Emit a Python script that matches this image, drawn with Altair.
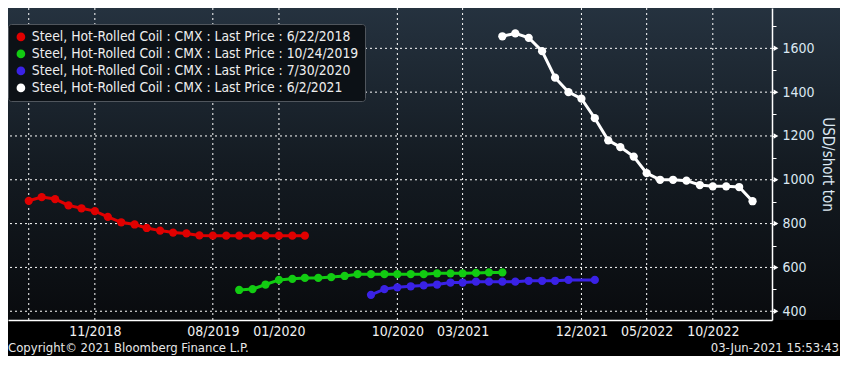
import altair as alt
import pandas as pd

FONT = "DejaVu Sans Condensed, Liberation Sans, sans-serif"
W, H = 764, 312
PAD_R, PAD_B = 68, 36

def months(start, n):
    return [d.strftime("%Y-%m-01T00:00:00") for d in pd.date_range(start, periods=n, freq="MS")]

series_names = [
    "Steel, Hot-Rolled Coil : CMX : Last Price : 6/22/2018",
    "Steel, Hot-Rolled Coil : CMX : Last Price : 10/24/2019",
    "Steel, Hot-Rolled Coil : CMX : Last Price : 7/30/2020",
    "Steel, Hot-Rolled Coil : CMX : Last Price : 6/2/2021",
]
series_ids = ["s1", "s2", "s3", "s4"]
series_colors = ["#e00000", "#12cc12", "#3a22e6", "#ffffff"]

red_months = months("2018-06-01", 22)
red_prices = [904, 921, 912, 883, 870, 857, 831, 806, 796, 780, 768, 759, 755, 746,
              745, 745, 745, 745, 745, 745, 745, 745]

green_months = months("2019-10-01", 21)
green_prices = [497, 501, 522, 543, 548, 552, 552, 556, 561, 569, 569, 569, 569, 569,
                569, 573, 573, 573, 575, 577, 577]

blue_months = months("2020-08-01", 16) + ["2022-01-01T00:00:00"]
blue_prices = [475, 501, 509, 514, 518, 522, 531, 531, 535, 535, 535, 535, 539, 539,
               539, 543, 543]

white_months = months("2021-06-01", 20)
white_prices = [1655, 1668, 1648, 1587, 1466, 1400, 1370, 1281, 1180, 1149, 1106, 1030,
                1000, 1000, 996, 976, 970, 970, 967, 902]

x_tick_dates = [(2018, 11), (2019, 8), (2020, 1), (2020, 10), (2021, 3), (2021, 12),
                (2022, 5), (2022, 10)]
x_grid_dates = [(2018, 6)] + x_tick_dates
y_major = [400, 600, 800, 1000, 1200, 1400, 1600]
y_all_ticks = list(range(400, 1800, 100))

rows = []
for name, sid, ms, ps in zip(series_names, series_ids,
                             [red_months, green_months, blue_months, white_months],
                             [red_prices, green_prices, blue_prices, white_prices]):
    for m, p in zip(ms, ps):
        rows.append({"series": name, "sid": sid, "date": m, "price": p})
df = pd.DataFrame(rows)

xgrid_df = pd.DataFrame({"date": [f"{y}-{m:02d}-01T00:00:00" for y, m in x_grid_dates]})
ygrid_df = pd.DataFrame({"price": y_major})

x_scale = alt.Scale(domain=[alt.DateTime(year=2018, month=4, date=14),
                            alt.DateTime(year=2023, month=2, date=15)])
y_scale = alt.Scale(domain=[360, 1784], nice=False, zero=False)

x_axis = alt.Axis(
    values=[alt.DateTime(year=y, month=m, date=1) for y, m in x_tick_dates],
    format="%m/%Y", grid=False, ticks=False, domainColor="#ffffff", domainWidth=1.5,
    labelColor="#f2f2f2", labelFont=FONT, labelFontSize=14, labelPadding=4,
    labelOverlap=False, labelFlush=False, title=None, zindex=1,
)
y_axis = alt.Axis(
    orient="right", values=y_all_ticks, format="d",
    labelExpr="datum.value % 200 == 0 ? datum.label : ''",
    grid=False, tickSize=4, tickColor="#ffffff", domainColor="#ffffff", domainWidth=1.5,
    labelColor="#dce8f2", labelFont=FONT, labelFontSize=14, labelPadding=6,
    title="USD/short ton", titleColor="#dce8f2", titleFont=FONT, titleFontSize=15,
    titleFontWeight="normal", titleAngle=90, titlePadding=5, zindex=1,
)

X = alt.X("date:T", scale=x_scale, axis=x_axis)
Y = alt.Y("price:Q", scale=y_scale, axis=y_axis)

one = pd.DataFrame({"a": [0]})

bg = alt.Chart(one).mark_rect(
    fill=alt.Gradient(
        gradient="linear",
        stops=[alt.GradientStop(color="#25323f", offset=0),
               alt.GradientStop(color="#141b22", offset=0.5),
               alt.GradientStop(color="#090b0e", offset=1)],
        x1=0, x2=0, y1=0, y2=1),
).encode(x=alt.value(0), x2=alt.value(W + PAD_R), y=alt.value(0), y2=alt.value(H))

bg_bottom = alt.Chart(one).mark_rect(fill="#000000").encode(
    x=alt.value(0), x2=alt.value(W + PAD_R), y=alt.value(H), y2=alt.value(H + PAD_B))

xgrid = alt.Chart(xgrid_df).mark_rule(color="#ffffff", strokeDash=[2, 3], strokeWidth=1).encode(x=X)
ygrid = alt.Chart(ygrid_df).mark_rule(color="#ffffff", strokeDash=[2, 3], strokeWidth=1).encode(y=Y)

lines = alt.Chart(df).mark_line(strokeWidth=3).encode(
    x=X, y=Y,
    stroke=alt.Stroke("sid:N", scale=alt.Scale(domain=series_ids, range=series_colors), legend=None),
    detail="sid:N",
)
points = alt.Chart(df).mark_circle(size=68, opacity=1).encode(
    x=X, y=Y,
    fill=alt.Fill("series:N", scale=alt.Scale(domain=series_names, range=series_colors),
                  legend=alt.Legend(title=None, orient="none", legendX=0, legendY=16,
                                    symbolType="circle", symbolSize=75, symbolStrokeWidth=0,
                                    labelFont=FONT, labelFontSize=13.8, labelColor="#eeeeee",
                                    labelLimit=500, rowPadding=2, padding=6,
                                    fillColor="#0c1116", strokeColor="#50565d",
                                    cornerRadius=3, zindex=2)),
)

tri = alt.Chart(ygrid_df).mark_point(shape="triangle-right", filled=True, size=30,
                                     color="#ffffff", opacity=1).encode(
    x=alt.value(W + 4), y=Y)

copy_txt = alt.Chart(one).mark_text(align="left", baseline="middle", font=FONT, fontSize=13,
                                    color="#e8e8e8").encode(
    x=alt.value(0), y=alt.value(H + 28), text=alt.value("Copyright\u00a9 2021 Bloomberg Finance L.P."))
time_txt = alt.Chart(one).mark_text(align="right", baseline="middle", font=FONT, fontSize=13,
                                    color="#e8e8e8").encode(
    x=alt.value(W + PAD_R - 1), y=alt.value(H + 28), text=alt.value("03-Jun-2021 15:53:43"))

chart = alt.layer(bg, bg_bottom, xgrid, ygrid, lines, points, tri, copy_txt, time_txt).properties(
    width=W, height=H,
    autosize=alt.AutoSizeParams(type="none"),
    padding={"left": 0, "top": 0, "right": PAD_R, "bottom": PAD_B},
    background="#000000",
).configure_view(stroke=None)

chart.save("out.html", embed_options={"renderer": "svg", "actions": False})
